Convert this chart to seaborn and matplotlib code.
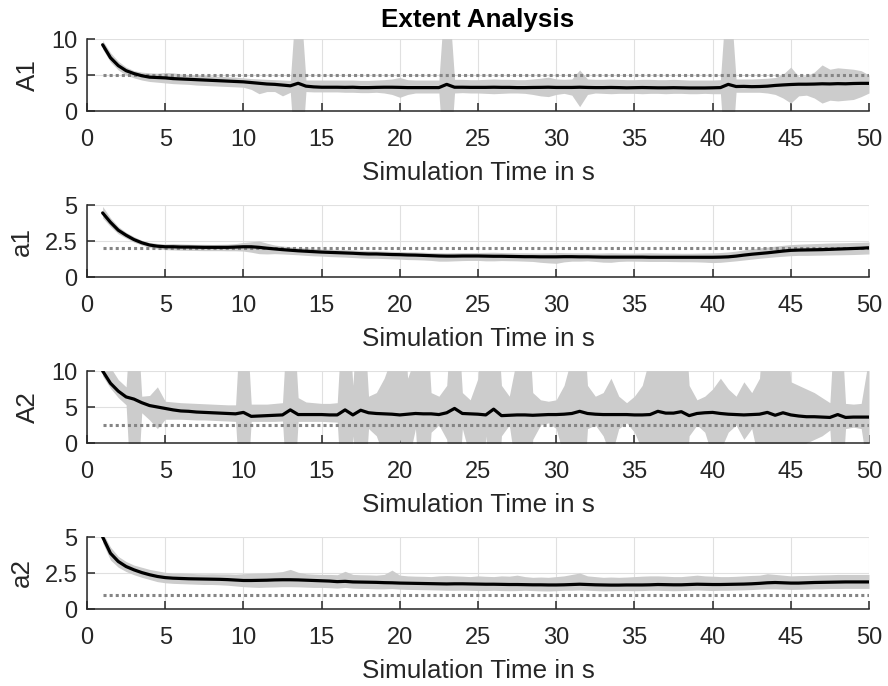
import numpy as np
import matplotlib
matplotlib.use("Agg")
import matplotlib.pyplot as plt
import seaborn as sns

# ---------------- data ----------------
time = np.arange(1.0, 50.01, 0.5)

A1_mean = [9.2, 7.4, 6.3, 5.6, 5.2, 4.9, 4.7, 4.65, 4.6, 4.5,
           4.45, 4.4, 4.35, 4.3, 4.25, 4.2, 4.15, 4.1, 4.05, 3.95,
           3.85, 3.75, 3.7, 3.6, 3.5, 3.85, 3.45, 3.35, 3.3, 3.3,
           3.3, 3.28, 3.3, 3.25, 3.25, 3.28, 3.3, 3.3, 3.28, 3.25,
           3.25, 3.25, 3.25, 3.25, 3.7, 3.3, 3.3, 3.28, 3.28, 3.28,
           3.3, 3.28, 3.28, 3.25, 3.25, 3.27, 3.28, 3.3, 3.27, 3.27,
           3.27, 3.3, 3.27, 3.25, 3.25, 3.27, 3.25, 3.22, 3.24, 3.26,
           3.24, 3.22, 3.22, 3.24, 3.22, 3.2, 3.2, 3.2, 3.22, 3.25,
           3.7, 3.4, 3.42, 3.38, 3.4, 3.45, 3.55, 3.62, 3.68, 3.72,
           3.72, 3.74, 3.78, 3.76, 3.8, 3.78, 3.82, 3.84, 3.84]
A1_hi = [9.8, 8.1, 6.9, 6.1, 5.6, 5.4, 5.3, 5.25, 5.35, 5.3,
         5.15, 5.05, 5.0, 4.95, 4.85, 4.8, 4.75, 4.7, 4.6, 4.5,
         4.45, 4.4, 4.35, 4.3, 4.25, 20, 4.3, 4.3, 4.3, 4.3,
         4.3, 4.3, 4.3, 4.25, 4.25, 4.3, 4.35, 4.45, 4.65, 4.35,
         4.3, 4.3, 4.3, 4.3, 20, 4.4, 4.4, 4.35, 4.35, 4.4,
         4.45, 4.4, 4.4, 4.35, 4.35, 4.45, 4.55, 4.7, 4.45, 4.4,
         4.45, 5.7, 4.45, 4.4, 4.4, 4.45, 4.4, 4.35, 4.35, 4.4,
         4.4, 4.35, 4.35, 4.4, 4.35, 4.3, 4.3, 4.3, 4.3, 4.35,
         20, 4.45, 4.45, 4.45, 4.5, 4.55, 4.65, 5.1, 6.1, 4.8,
         4.9, 5.4, 6.4, 5.8, 6.0, 5.9, 5.8, 5.6, 5.0]
A1_lo = [8.6, 6.8, 5.7, 5.0, 4.6, 4.3, 4.1, 4.0, 3.9, 3.8,
         3.75, 3.7, 3.6, 3.55, 3.5, 3.45, 3.4, 3.35, 3.3, 3.0,
         2.4, 2.7, 2.7, 2.1, 2.6, -13, 2.7, 2.65, 2.65, 2.65,
         2.65, 2.6, 2.6, 2.55, 2.55, 2.6, 2.5, 2.3, 1.9, 2.3,
         2.5, 2.5, 2.5, 2.5, -13, 2.5, 2.55, 2.5, 2.5, 2.45,
         2.4, 2.45, 2.5, 2.5, 2.45, 2.3, 2.1, 2.0, 2.3, 2.45,
         2.2, 0.6, 2.3, 2.5, 2.45, 2.4, 2.45, 2.45, 2.45, 2.4,
         2.45, 2.45, 2.4, 2.45, 2.45, 2.4, 2.4, 2.45, 2.4, 2.4,
         -13, 2.6, 2.6, 2.6, 2.6, 2.5, 2.3, 1.8, 1.1, 2.1,
         2.2, 1.8, 1.1, 1.5, 1.4, 1.5, 1.6, 2.0, 2.5]

a1_mean = [4.45, 3.8, 3.25, 2.9, 2.6, 2.38, 2.22, 2.14, 2.1, 2.1,
           2.08, 2.08, 2.07, 2.06, 2.06, 2.06, 2.06, 2.08, 2.1, 2.1,
           2.06, 2.0, 1.95, 1.9, 1.86, 1.82, 1.79, 1.76, 1.73, 1.71,
           1.69, 1.67, 1.65, 1.62, 1.6, 1.6, 1.58, 1.56, 1.55, 1.53,
           1.52, 1.5, 1.48, 1.46, 1.45, 1.45, 1.46, 1.46, 1.46, 1.45,
           1.44, 1.44, 1.43, 1.42, 1.41, 1.41, 1.4, 1.4, 1.4, 1.41,
           1.41, 1.4, 1.4, 1.39, 1.38, 1.38, 1.38, 1.38, 1.38, 1.38,
           1.37, 1.37, 1.37, 1.37, 1.37, 1.37, 1.37, 1.37, 1.37, 1.38,
           1.4, 1.45, 1.52, 1.58, 1.63, 1.68, 1.74, 1.8, 1.85, 1.87,
           1.88, 1.89, 1.9, 1.92, 1.94, 1.96, 1.98, 2.0, 2.03]
a1_hi = [4.9, 4.1, 3.5, 3.1, 2.8, 2.55, 2.4, 2.33, 2.3, 2.32,
         2.3, 2.28, 2.27, 2.27, 2.26, 2.27, 2.28, 2.32, 2.4, 2.45,
         2.5, 2.35, 2.22, 2.15, 2.1, 2.05, 2.02, 1.98, 1.95, 1.93,
         1.91, 1.9, 1.88, 1.85, 1.83, 1.82, 1.8, 1.78, 1.77, 1.75,
         1.74, 1.72, 1.7, 1.69, 1.68, 1.69, 1.7, 1.7, 1.7, 1.71,
         1.72, 1.7, 1.69, 1.68, 1.68, 1.67, 1.67, 1.68, 1.7, 1.69,
         1.68, 1.68, 1.67, 1.66, 1.67, 1.68, 1.67, 1.66, 1.66, 1.67,
         1.68, 1.67, 1.66, 1.66, 1.65, 1.65, 1.66, 1.67, 1.68, 1.7,
         1.74, 1.8, 1.88, 1.95, 2.02, 2.08, 2.14, 2.2, 2.25, 2.28,
         2.3, 2.32, 2.34, 2.36, 2.37, 2.38, 2.4, 2.41, 2.43]
a1_lo = [4.1, 3.5, 3.0, 2.7, 2.42, 2.22, 2.05, 1.95, 1.9, 1.88,
         1.86, 1.85, 1.84, 1.83, 1.83, 1.83, 1.82, 1.82, 1.8, 1.72,
         1.62, 1.6, 1.62, 1.6, 1.57, 1.54, 1.5, 1.47, 1.45, 1.42,
         1.4, 1.38, 1.35, 1.32, 1.3, 1.3, 1.28, 1.26, 1.24, 1.21,
         1.2, 1.18, 1.15, 1.1, 1.1, 1.12, 1.14, 1.15, 1.15, 1.12,
         1.12, 1.14, 1.13, 1.12, 1.1, 1.08, 1.02, 0.98, 0.95, 1.05,
         1.1, 1.1, 1.12, 1.08, 1.03, 1.02, 1.08, 1.1, 1.1, 1.09,
         1.08, 1.08, 1.08, 1.07, 1.06, 1.06, 1.05, 1.03, 1.0, 1.02,
         1.07, 1.12, 1.18, 1.24, 1.3, 1.35, 1.4, 1.44, 1.48, 1.5,
         1.5, 1.51, 1.52, 1.53, 1.54, 1.55, 1.56, 1.58, 1.6]

A2_mean = [10.0, 8.3, 7.2, 6.4, 6.1, 5.6, 5.2, 5.0, 4.8, 4.6,
           4.45, 4.4, 4.3, 4.25, 4.2, 4.15, 4.1, 4.05, 4.25, 3.7,
           3.75, 3.8, 3.85, 3.9, 4.6, 3.95, 3.95, 3.95, 3.95, 3.9,
           3.9, 4.6, 3.9, 4.55, 4.2, 4.1, 4.05, 4.0, 3.9, 4.0,
           4.1, 4.05, 4.05, 3.95, 4.2, 4.8, 4.1, 4.05, 4.0, 3.9,
           4.7, 3.8, 3.85, 3.9, 3.9, 3.85, 3.9, 3.95, 3.95, 4.0,
           4.1, 4.4, 4.1, 4.0, 3.95, 3.95, 3.95, 3.95, 3.9, 3.9,
           3.95, 4.4, 4.15, 4.15, 4.35, 3.8, 4.1, 4.2, 4.25, 4.1,
           4.0, 3.95, 3.9, 3.95, 4.0, 4.25, 3.85, 4.2, 3.9, 3.75,
           3.65, 3.65, 3.6, 3.55, 3.95, 3.55, 3.6, 3.6, 3.6]
A2_hi = [12, 10.5, 8.8, 7.8, 25, 6.5, 6.6, 7.8, 5.8, 5.7,
         5.6, 5.55, 5.5, 5.45, 5.4, 5.35, 5.3, 5.3, 25, 5.4,
         5.4, 5.4, 5.5, 5.6, 25, 6.3, 5.7, 5.6, 5.5, 5.5,
         5.6, 25, 8, 25, 6.5, 7.0, 9.0, 12, 25, 9,
         12, 25, 7, 6.5, 8, 25, 7, 6.0, 9, 25,
         25, 8, 6.5, 12, 25, 7, 6.0, 5.8, 6.0, 8,
         12, 25, 8, 6.5, 7, 9, 6.5, 5.6, 6.5, 8,
         12, 25, 18, 25, 25, 8, 6, 6.5, 7.5, 9,
         7.5, 6.5, 8.5, 7, 9, 25, 14, 25, 8.5, 8,
         7.5, 7, 6.3, 5.6, 25, 5.5, 5.4, 5.5, 12]
A2_lo = [9.3, 7.6, 6.3, 5.3, -15, 4.2, 3.2, 2.0, 3.3, 3.3,
         3.3, 3.25, 3.2, 3.2, 3.15, 3.1, 3.05, 3.0, -15, 3.0,
         3.0, 3.0, 3.0, 3.05, -15, 3.0, 3.0, 3.0, 3.0, 2.95,
         2.9, -15, 1.0, -15, 2.0, 1.0, -2, -15, 0.5, -3,
         2.0, -15, 1.5, 2.5, 0.5, -15, 2.0, -2, -15, 1.0,
         -15, 1.0, 2.5, -5, -15, 0.5, 2.5, 2.8, 2.0, -2,
         -15, -15, 2.0, 2.5, 1.0, -2, 2.0, 2.8, 1.5, -1,
         -8, -15, -10, -15, -15, 1.0, 2.5, 1.5, -2, -1,
         1.5, 2.5, 0.5, 2.0, -3, -15, -5, -15, -2, -1,
         0.0, 0.5, 1.0, 1.8, -15, 2.0, 2.2, 2.0, -5]

a2_mean = [5.0, 3.87, 3.3, 2.95, 2.72, 2.53, 2.38, 2.26, 2.18, 2.14,
           2.12, 2.1, 2.09, 2.08, 2.07, 2.06, 2.04, 2.01, 1.98, 1.98,
           1.99, 2.0, 2.02, 2.03, 2.03, 2.02, 2.0, 1.98, 1.96, 1.94,
           1.9, 1.92, 1.88, 1.87, 1.86, 1.85, 1.83, 1.82, 1.8, 1.79,
           1.78, 1.77, 1.76, 1.75, 1.74, 1.75, 1.75, 1.74, 1.73, 1.72,
           1.72, 1.71, 1.7, 1.7, 1.69, 1.68, 1.68, 1.67, 1.67, 1.68,
           1.7, 1.72, 1.7, 1.68, 1.67, 1.66, 1.66, 1.67, 1.67, 1.67,
           1.68, 1.7, 1.69, 1.68, 1.68, 1.7, 1.72, 1.71, 1.7, 1.7,
           1.71, 1.72, 1.73, 1.75, 1.78, 1.82, 1.84, 1.82, 1.8, 1.8,
           1.82, 1.84, 1.85, 1.86, 1.87, 1.88, 1.88, 1.88, 1.88]
a2_hi = [5.3, 4.3, 3.65, 3.3, 3.05, 2.9, 2.75, 2.65, 2.55, 2.5,
         2.5, 2.48, 2.45, 2.44, 2.45, 2.44, 2.44, 2.42, 2.45, 2.48,
         2.5, 2.52, 2.55, 2.6, 2.75, 2.55, 2.45, 2.42, 2.4, 2.4,
         2.38, 2.62, 2.4, 2.38, 2.37, 2.35, 2.4, 2.7, 2.35, 2.3,
         2.28, 2.27, 2.25, 2.3, 2.32, 2.3, 2.28, 2.25, 2.3, 2.27,
         2.25, 2.3, 2.28, 2.35, 2.25, 2.2, 2.22, 2.2, 2.25, 2.3,
         2.4, 2.5, 2.3, 2.25, 2.2, 2.22, 2.2, 2.22, 2.25, 2.28,
         2.3, 2.3, 2.28, 2.25, 2.25, 2.3, 2.35, 2.3, 2.28, 2.25,
         2.25, 2.27, 2.3, 2.33, 2.35, 2.45, 2.4, 2.35, 2.3, 2.32,
         2.33, 2.35, 2.37, 2.38, 2.4, 2.4, 2.4, 2.4, 2.4]
a2_lo = [4.6, 3.4, 2.9, 2.6, 2.38, 2.2, 2.05, 1.9, 1.82, 1.78,
         1.76, 1.74, 1.72, 1.7, 1.7, 1.68, 1.65, 1.6, 1.55, 1.52,
         1.5, 1.52, 1.53, 1.55, 1.55, 1.54, 1.52, 1.5, 1.5, 1.48,
         1.45, 1.5, 1.45, 1.43, 1.42, 1.4, 1.4, 1.42, 1.38, 1.36,
         1.35, 1.34, 1.33, 1.32, 1.3, 1.3, 1.31, 1.3, 1.28, 1.28,
         1.3, 1.28, 1.27, 1.28, 1.3, 1.28, 1.26, 1.25, 1.27, 1.3,
         1.3, 1.32, 1.3, 1.28, 1.26, 1.27, 1.28, 1.28, 1.27, 1.28,
         1.3, 1.3, 1.28, 1.27, 1.28, 1.3, 1.32, 1.3, 1.28, 1.3,
         1.3, 1.32, 1.33, 1.35, 1.38, 1.4, 1.4, 1.38, 1.36, 1.37,
         1.38, 1.4, 1.4, 1.42, 1.42, 1.43, 1.43, 1.43, 1.43]

panel_names = ["A1", "a1", "A2", "a2"]
reference_values = [5.0, 2.0, 2.5, 1.0]
y_limits = [(0, 10), (0, 5), (0, 10), (0, 5)]
y_tick_values = [[0, 5, 10], [0, 2.5, 5], [0, 5, 10], [0, 2.5, 5]]
y_tick_labels = [["0", "5", "10"], ["0", "2.5", "5"], ["0", "5", "10"], ["0", "2.5", "5"]]
x_tick_values = [0, 5, 10, 15, 20, 25, 30, 35, 40, 45, 50]
x_label = "Simulation Time in s"
title = "Extent Analysis"

means = [A1_mean, a1_mean, A2_mean, a2_mean]
his = [A1_hi, a1_hi, A2_hi, a2_hi]
los = [A1_lo, a1_lo, A2_lo, a2_lo]

# ---------------- style ----------------
sns.set_theme(style="white")
plt.rcParams['font.family'] = ['Liberation Sans', 'DejaVu Sans']
plt.rcParams['axes.unicode_minus'] = False

W, H = 888, 686
fig = plt.figure(figsize=(W / 100, H / 100), dpi=100)

left_px, right_px = 87, 869
panel_tops = [39, 205, 371, 537]
panel_h = 72

text_col = "#262626"
tick_fs = 17
label_fs = 18.7

axes = []
for i in range(4):
    top = panel_tops[i]
    ax = fig.add_axes([left_px / W, 1 - (top + panel_h) / H,
                       (right_px - left_px) / W, panel_h / H])
    axes.append(ax)
    ax.set_axisbelow(True)
    ax.grid(True, color="#e0e0e0", linewidth=0.8)

    ax.fill_between(time, los[i], his[i], color="#cccccc", linewidth=0, zorder=1)
    ax.plot([time[0], time[-1]], [reference_values[i]] * 2, color="#858585",
            linewidth=2.2, linestyle=(0, (1.0, 1.0)), zorder=2)
    sns.lineplot(x=time, y=means[i], ax=ax, color="black", linewidth=2.3,
                 zorder=3, legend=False)

    ax.set_xlim(0, 50)
    ax.set_ylim(*y_limits[i])
    ax.set_xticks(x_tick_values)
    ax.set_xticklabels([str(v) for v in x_tick_values])
    ax.set_yticks(y_tick_values[i])
    ax.set_yticklabels(y_tick_labels[i])

    for side in ["top", "right"]:
        ax.spines[side].set_visible(False)
    for side in ["left", "bottom"]:
        ax.spines[side].set_color(text_col)
        ax.spines[side].set_linewidth(1.1)
    ax.tick_params(axis="both", which="major", direction="in", length=6, width=1.1,
                   colors=text_col, labelsize=tick_fs, labelcolor=text_col,
                   bottom=True, left=True, top=False, right=False)
    ax.tick_params(axis="x", pad=13)
    ax.tick_params(axis="y", pad=7)
    ax.set_xlabel(x_label, fontsize=label_fs, color=text_col, labelpad=7)
    ax.set_ylabel(panel_names[i], fontsize=label_fs, color=text_col, labelpad=8)

axes[0].set_title(title, fontsize=label_fs, fontweight="bold", color="black", pad=8.5)

fig.savefig("out.png", dpi=100)
